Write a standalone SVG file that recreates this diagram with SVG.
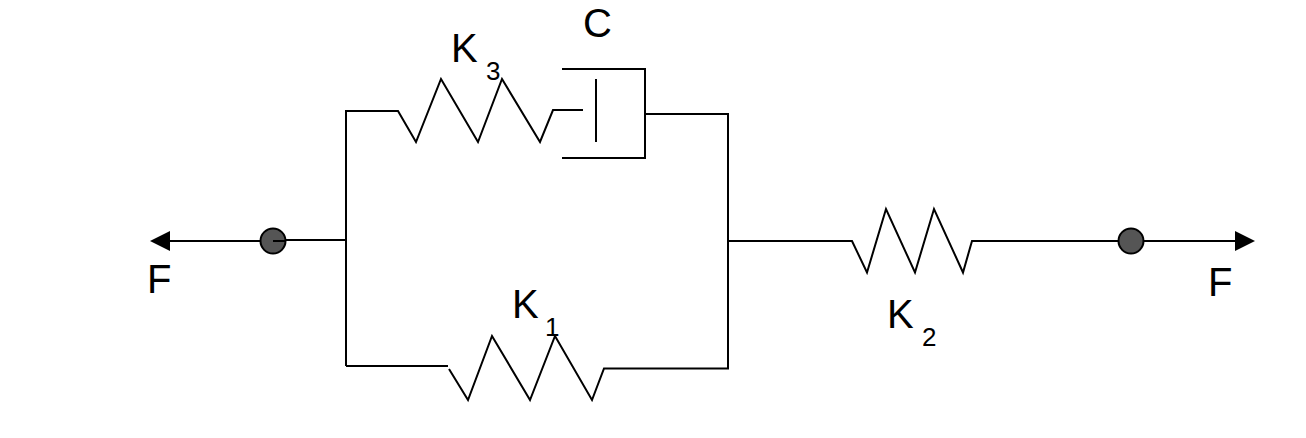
<svg xmlns="http://www.w3.org/2000/svg" width="1306" height="438" viewBox="0 0 1306 438">
<style>
.w{fill:none;stroke:#000;stroke-width:2;stroke-linejoin:miter}
.t{font-family:"Liberation Sans",Arial,sans-serif;fill:#000}
.l{font-size:40px}
.s{font-size:26px}
.p{fill:#555;stroke:#000;stroke-width:2}
.h{fill:#000;stroke:none}
</style>
<rect width="1306" height="438" fill="#fff"/>
<g id="connectors">
<path class="w" d="M170 241H273M273 240H346"/>
<path class="w" d="M346 366V111H398L416 142L441 79L478 142L502 79L540 142L553 110H583"/>
<path class="w" d="M346 366H448"/>
<path class="w" d="M449 369L468 400L492 336L530 400L555 336L592 400L604 368.500H728V114H645"/>
<path class="w" d="M728 241H852L867 272.500L886 209L915 272.500L934 209L963 272.500L972 241H1235"/>
</g>
<g id="damper-C">
<path class="w" d="M562 69H645V158H562"/>
<path class="w" d="M596 79V142"/>
<text class="t l" x="583" y="37">C</text>
</g>
<g id="spring-K3">
<text class="t l" x="451" y="62">K</text>
<text class="t s" x="486" y="80">3</text>
</g>
<g id="spring-K1">
<text class="t l" x="512" y="318">K</text>
<text class="t s" x="545" y="336">1</text>
</g>
<g id="spring-K2">
<text class="t l" x="887" y="328">K</text>
<text class="t s" x="922" y="346">2</text>
</g>
<g id="end-left">
<circle class="p" cx="273" cy="241" r="12.500"/>
<path class="w" d="M273 241H286"/>
<path class="h" d="M150 241L170 231V251Z"/>
<text class="t l" x="147" y="293">F</text>
</g>
<g id="end-right">
<circle class="p" cx="1131" cy="241" r="12.500"/>
<path class="h" d="M1255 241L1235 231V251Z"/>
<text class="t l" x="1208" y="296">F</text>
</g>
</svg>
